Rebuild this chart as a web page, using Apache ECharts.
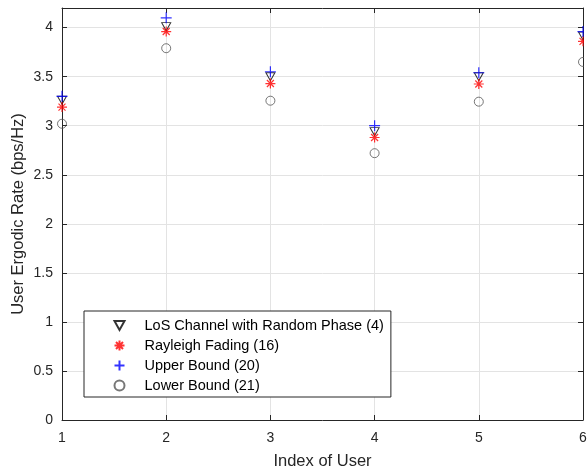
<!DOCTYPE html>
<html>
<head>
<meta charset="utf-8">
<script src="https://cdn.jsdelivr.net/npm/echarts@6/dist/echarts.min.js"></script>
<style>
html,body{margin:0;padding:0;background:#fff;}
#chart{width:587px;height:470px;}
</style>
</head>
<body>
<div id="chart"></div>
<script>
// ---- data ----
var users = [1, 2, 3, 4, 5, 6];
var losRandomPhase = [3.26, 4.01, 3.50, 2.94, 3.50, 3.915];
var rayleighFading = [3.19, 3.96, 3.43, 2.88, 3.425, 3.86];
var upperBound = [3.30, 4.10, 3.55, 3.00, 3.54, 3.96];
var lowerBound = [3.02, 3.79, 3.255, 2.72, 3.245, 3.65];
var seriesNames = ['LoS Channel with Random Phase (4)', 'Rayleigh Fading (16)', 'Upper Bound (20)', 'Lower Bound (21)'];
var yTicks = [0, 0.5, 1, 1.5, 2, 2.5, 3, 3.5, 4];
var xTicks = [1, 2, 3, 4, 5, 6];

function pairs(vals) { return users.map(function (u, i) { return [u, vals[i]]; }); }

var FONT = 'Liberation Sans, Arial, Helvetica, sans-serif';
var AX = '#262626';
var GRID = '#e3e3e3';

var TRI_DOWN = 'path://M0,0L10,0L5,9Z';
var PLUS = 'path://M5,0L5,10M0,5L10,5';
var STAR = 'path://M5,0L5,10M0,5L10,5M1.5,1.5L8.5,8.5M1.5,8.5L8.5,1.5';

var chart = echarts.init(document.getElementById('chart'), null, {renderer: 'canvas'});

var option = {
  backgroundColor: '#fff',
  animation: false,
  grid: {left: 62, right: 4, top: 8, bottom: 50, containLabel: false, outerBoundsMode: 'none'},
  xAxis: [{
    type: 'value', min: 1, max: 6, interval: 1,
    name: 'Index of User', nameLocation: 'middle', nameGap: 33, nameMoveOverlap: false,
    nameTextStyle: {fontFamily: FONT, fontSize: 16.5, color: AX},
    axisLine: {show: true, onZero: false, lineStyle: {color: AX, width: 1}},
    axisTick: {show: true, inside: true, length: 5, lineStyle: {color: AX}},
    axisLabel: {fontFamily: FONT, fontSize: 14, color: AX, margin: 11},
    splitLine: {show: true, lineStyle: {color: GRID, width: 1}}
  }, {
    type: 'value', min: 1, max: 6, interval: 1, position: 'top',
    axisLine: {show: true, onZero: false, lineStyle: {color: AX, width: 1}},
    axisTick: {show: true, inside: true, length: 5, lineStyle: {color: AX}},
    axisLabel: {show: false}, splitLine: {show: false}
  }],
  yAxis: [{
    type: 'value', min: 0, max: 4.2, interval: 0.5,
    name: 'User Ergodic Rate (bps/Hz)', nameLocation: 'middle', nameGap: 35, nameMoveOverlap: false,
    nameTextStyle: {fontFamily: FONT, fontSize: 16.5, color: AX},
    axisLine: {show: true, onZero: false, lineStyle: {color: AX, width: 1}},
    axisTick: {show: true, inside: true, length: 5, lineStyle: {color: AX}},
    axisLabel: {fontFamily: FONT, fontSize: 14, color: AX, margin: 9, showMaxLabel: false,
      formatter: function (v) { return yTicks.indexOf(Math.round(v * 100) / 100) >= 0 ? String(v) : ''; }},
    splitLine: {show: true, lineStyle: {color: GRID, width: 1}}
  }, {
    type: 'value', min: 0, max: 4.2, interval: 0.5, position: 'right',
    axisLine: {show: true, onZero: false, lineStyle: {color: AX, width: 1}},
    axisTick: {show: true, inside: true, length: 5, lineStyle: {color: AX}},
    axisLabel: {show: false}, splitLine: {show: false}
  }],
  legend: {
    orient: 'vertical', left: 84, top: 311,
    padding: [7, 7, 4, 28],
    itemWidth: 10, itemHeight: 10, itemGap: 5,
    backgroundColor: '#fff', borderColor: AX, borderWidth: 1, borderRadius: 0,
    textStyle: {fontFamily: FONT, fontSize: 14.5, color: '#000', padding: [0, 0, 0, 15]},
    data: seriesNames
  },
  graphic: [{
    type: 'rect', left: 584, top: 0, z: 100,
    shape: {width: 3, height: 424}, style: {fill: '#fff'}
  }],
  series: [{
    name: seriesNames[0], type: 'scatter', data: pairs(losRandomPhase),
    symbol: TRI_DOWN, symbolSize: [9, 8],
    itemStyle: {color: 'rgba(255,255,255,0)', borderColor: '#000', borderWidth: 1}, z: 2
  }, {
    name: seriesNames[1], type: 'scatter', data: pairs(rayleighFading),
    symbol: STAR, symbolSize: 10,
    itemStyle: {color: 'none', borderColor: '#ff0000', borderWidth: 1.2}, z: 3
  }, {
    name: seriesNames[2], type: 'scatter', data: pairs(upperBound),
    symbol: PLUS, symbolSize: 11,
    itemStyle: {color: 'none', borderColor: '#0000ff', borderWidth: 1.2}, z: 4
  }, {
    name: seriesNames[3], type: 'scatter', data: pairs(lowerBound),
    symbol: 'circle', symbolSize: 9,
    itemStyle: {color: 'rgba(255,255,255,0)', borderColor: '#555', borderWidth: 1}, z: 5
  }]
};
chart.setOption(option);
</script>
</body>
</html>
